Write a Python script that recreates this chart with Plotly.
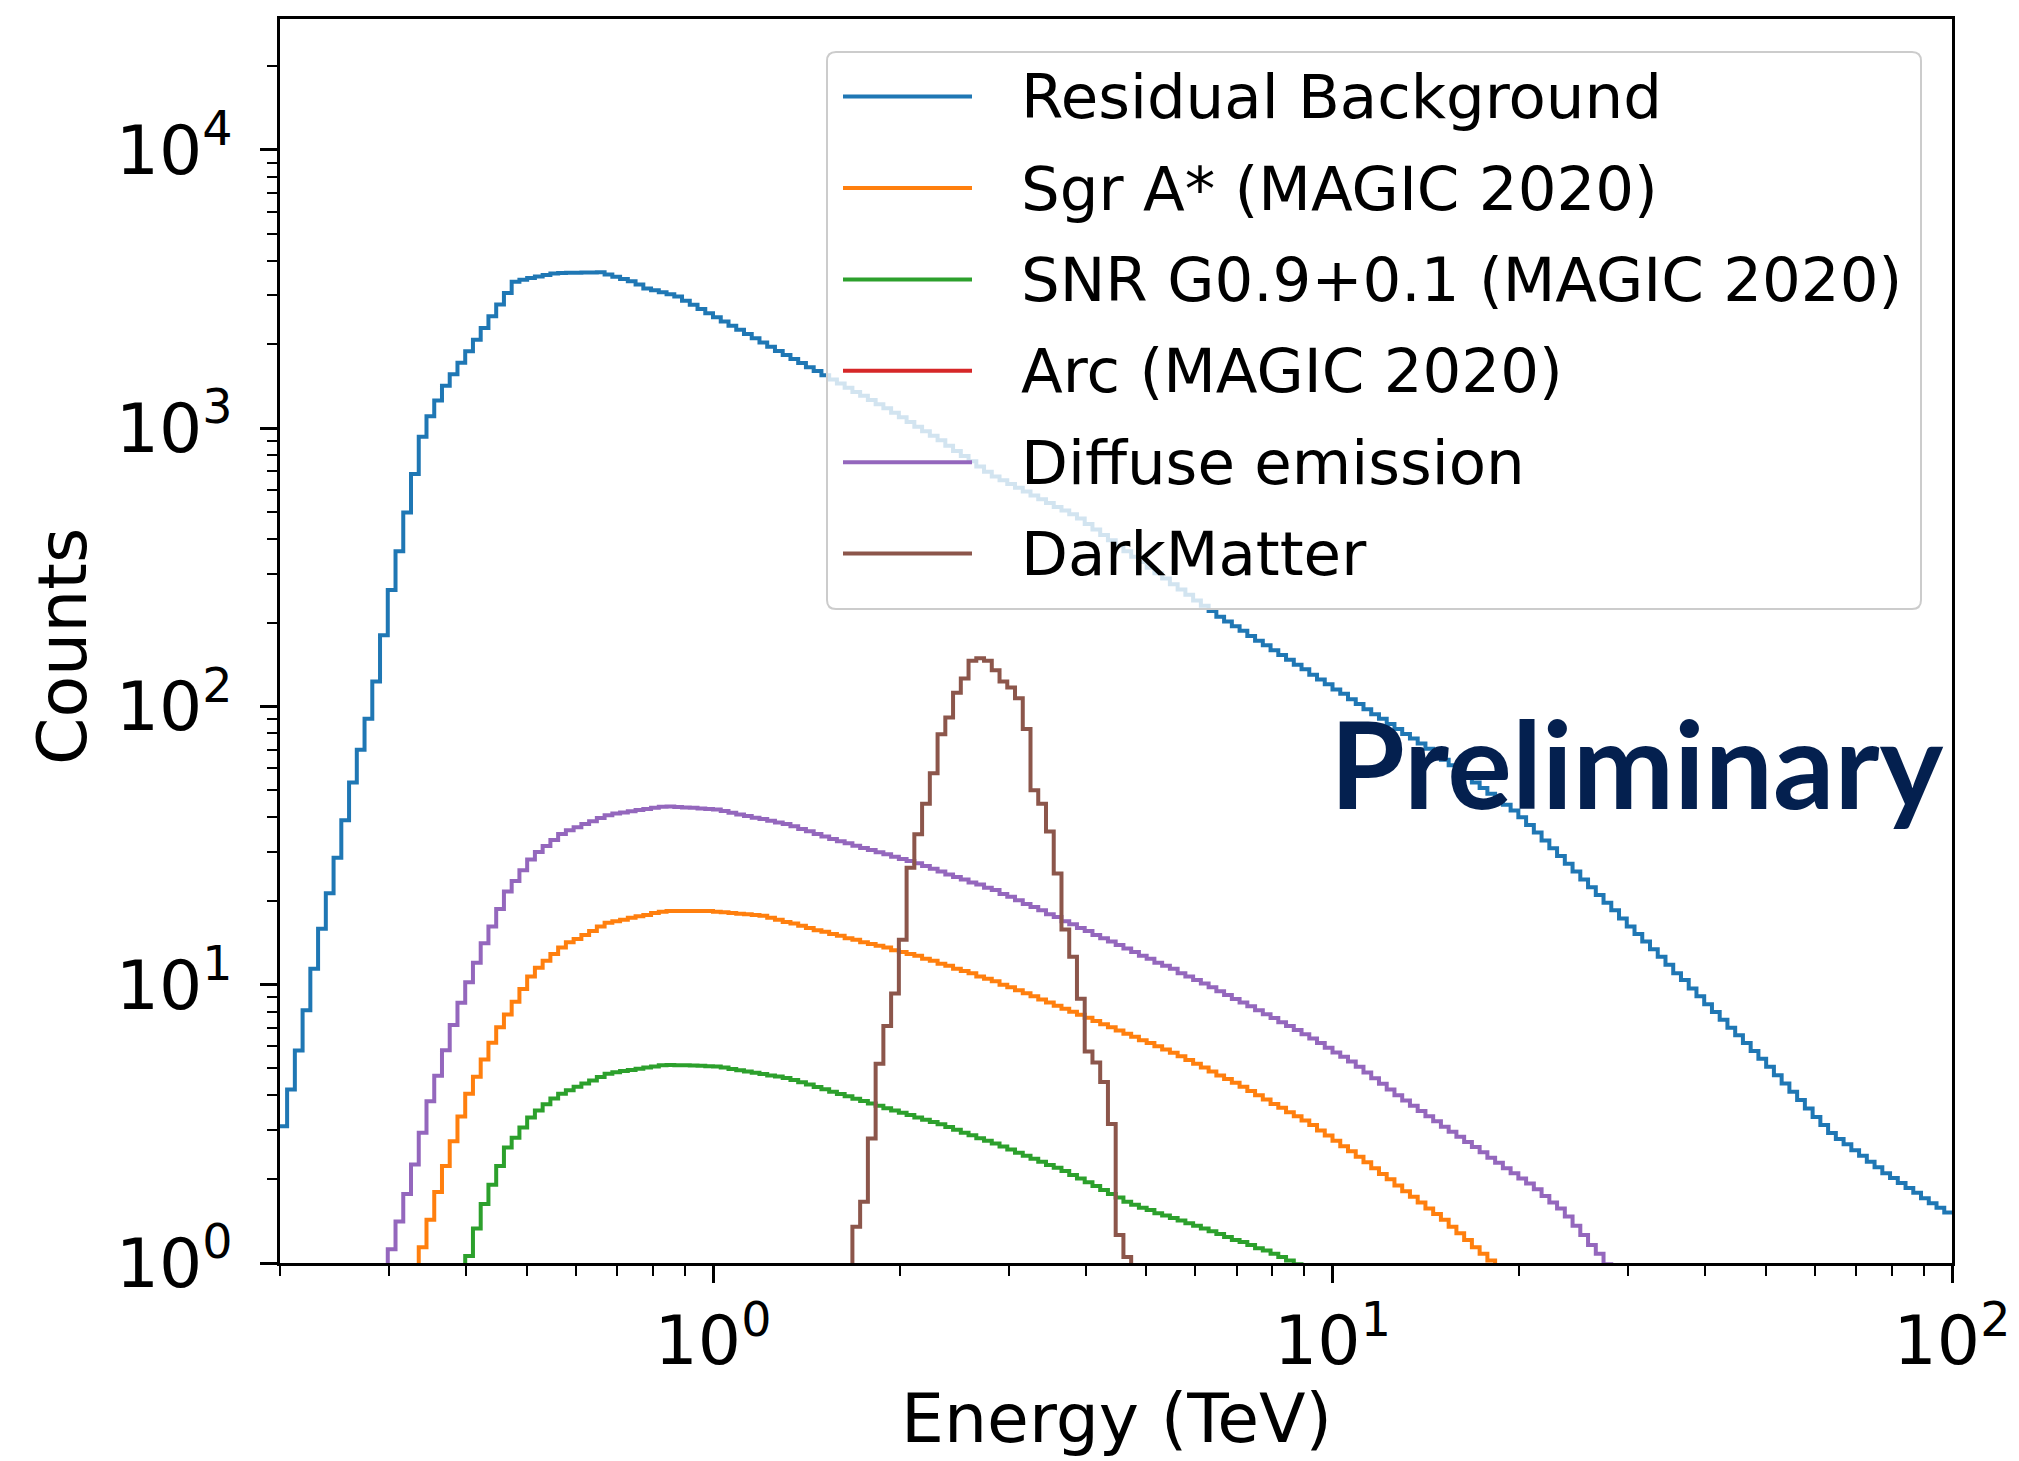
import numpy as np
import plotly.graph_objects as go

# ---------------- data ----------------
# histogram binning: log10(E/TeV) from -0.7 to 2.0, 80 bins per decade
log_e_min = -0.7
log_e_step = 0.0125
n_bins = 216
bin_edges = 10 ** (log_e_min + log_e_step * np.arange(n_bins + 1))

series_names = [
    "Residual Background",
    "Sgr A* (MAGIC 2020)",
    "SNR G0.9+0.1 (MAGIC 2020)",
    "Arc (MAGIC 2020)",
    "Diffuse emission",
    "DarkMatter",
]
series_colors = ["#1f77b4", "#ff7f0e", "#2ca02c", "#d62728", "#9467bd", "#8c564b"]

# first bin index of each series, then counts per bin
bkg_start = 0
bkg_counts = [
    3.1, 4.2, 5.8, 8.1, 11.4, 15.9, 21.3, 28.6, 39, 53.3,
    69.9, 90.3, 123, 180, 262, 361, 497, 684, 931, 1104,
    1256, 1419, 1560, 1718, 1888, 2077, 2291, 2523, 2780, 3060,
    3357, 3415, 3459, 3508, 3548, 3597, 3606, 3614, 3614, 3622,
    3622, 3631, 3565, 3499, 3436, 3373, 3281, 3177, 3126, 3076,
    3027, 2972, 2871, 2773, 2679, 2588, 2500, 2415, 2333, 2254,
    2178, 2104, 2032, 1959, 1892, 1832, 1770, 1714, 1656, 1603,
    1549, 1496, 1445, 1396, 1349, 1306, 1262, 1219, 1178, 1135,
    1094, 1052, 1012, 975, 938, 904, 865, 828, 794, 760,
    728, 697, 670, 649, 630, 610, 592, 573, 555, 538,
    521, 506, 490, 473, 452, 432, 413, 395, 378, 361,
    345, 330, 315, 301, 288, 275, 263, 252, 240, 230,
    220, 210, 202, 194, 187, 179, 172, 166, 159, 153,
    147, 141, 136, 130, 125, 120, 115, 111, 106, 102,
    97.7, 93.8, 90.2, 86.5, 83, 79.6, 76.6, 73.5, 70.5, 67.3,
    64.3, 61.4, 58.5, 55.8, 53.3, 50.9, 48.5, 46.3, 44.3, 42.3,
    40, 37.5, 35.2, 33, 30.9, 29, 27.2, 25.5, 23.9, 22.4,
    21, 19.7, 18.5, 17.3, 16.2, 15.2, 14.3, 13.4, 12.6, 11.8,
    11, 10.4, 9.7, 9.08, 8.51, 7.98, 7.48, 7.01, 6.58, 6.17,
    5.78, 5.42, 5.07, 4.73, 4.42, 4.12, 3.85, 3.59, 3.35, 3.13,
    2.93, 2.79, 2.67, 2.54, 2.43, 2.31, 2.21, 2.1, 2.02, 1.94,
    1.86, 1.79, 1.71, 1.64, 1.58, 1.52,
]

sgr_start = 17
sgr_counts = [
    0.91, 1.14, 1.43,
    1.8, 2.23, 2.74, 3.36, 4.06, 4.67, 5.38, 6.19, 7.03, 7.82,
    8.69, 9.66, 10.7, 11.5, 12.2, 12.9, 13.6, 14.2, 14.6, 15.1,
    15.6, 16.2, 16.7, 16.9, 17.1, 17.4, 17.6, 17.8, 18.1, 18.3,
    18.4, 18.4, 18.4, 18.4, 18.4, 18.4, 18.3, 18.2, 18.1, 18,
    17.9, 17.8, 17.7, 17.4, 17.1, 16.8, 16.6, 16.3, 16, 15.7,
    15.5, 15.2, 15, 14.7, 14.5, 14.2, 14, 13.8, 13.6, 13.3,
    13.1, 12.9, 12.7, 12.4, 12.2, 11.9, 11.7, 11.4, 11.2, 11,
    10.7, 10.5, 10.3, 10, 9.8, 9.55, 9.31, 9.08, 8.85, 8.63,
    8.41, 8.2, 8, 7.8, 7.6, 7.41, 7.21, 7.03, 6.85, 6.67,
    6.5, 6.32, 6.17, 6.01, 5.85, 5.7, 5.53, 5.36, 5.2, 5.04,
    4.88, 4.72, 4.58, 4.44, 4.3, 4.15, 4.01, 3.87, 3.73, 3.61,
    3.48, 3.37, 3.25, 3.13, 2.99, 2.87, 2.75, 2.63, 2.52, 2.41,
    2.3, 2.19, 2.09, 2, 1.9, 1.81, 1.73, 1.65, 1.57, 1.5,
    1.43, 1.35, 1.28, 1.21, 1.14, 1.08, 1.02, 0.96,
]

snr_start = 23
snr_counts = [
    0.9, 1.06, 1.33, 1.63, 1.91, 2.23, 2.6,
    2.82, 3.07, 3.33, 3.53, 3.72, 3.9, 4.06, 4.18, 4.3, 4.42,
    4.53, 4.66, 4.79, 4.85, 4.9, 4.94, 4.99, 5.04, 5.08, 5.13,
    5.15, 5.14, 5.13, 5.12, 5.11, 5.09, 5.08, 5.04, 4.98, 4.93,
    4.88, 4.83, 4.78, 4.72, 4.68, 4.62, 4.55, 4.46, 4.38, 4.29,
    4.21, 4.12, 4.05, 3.97, 3.89, 3.82, 3.74, 3.67, 3.6, 3.53,
    3.47, 3.4, 3.33, 3.27, 3.21, 3.15, 3.08, 3.01, 2.94, 2.88,
    2.81, 2.75, 2.69, 2.62, 2.56, 2.49, 2.43, 2.37, 2.31, 2.25,
    2.2, 2.14, 2.07, 2.01, 1.95, 1.89, 1.83, 1.77, 1.72, 1.66,
    1.62, 1.58, 1.55, 1.51, 1.48, 1.45, 1.42, 1.39, 1.36, 1.33,
    1.3, 1.27, 1.24, 1.21, 1.19, 1.16, 1.13, 1.11, 1.08, 1.05,
    1.02, 0.99, 0.95,
]

arc_start = 28
arc_counts = [
    0.2, 0.25, 0.3, 0.34, 0.38, 0.41, 0.44, 0.46, 0.48, 0.49,
    0.5, 0.51, 0.51, 0.5, 0.5, 0.49, 0.48, 0.47, 0.46, 0.45,
    0.44, 0.43, 0.42, 0.41, 0.4, 0.39, 0.38, 0.37, 0.36, 0.35,
]

diffuse_start = 13
diffuse_counts = [
    0.9, 1.12, 1.41, 1.77, 2.26, 2.94, 3.81,
    4.71, 5.81, 7.16, 8.61, 10.2, 12, 14.1, 16.2, 18.7, 21.6,
    23.6, 25.8, 28.2, 30, 31.5, 33.1, 34.8, 35.9, 36.8, 37.8,
    38.7, 39.7, 40.6, 41.2, 41.6, 42, 42.4, 42.8, 43.2, 43.6,
    43.7, 43.5, 43.3, 43.2, 43, 42.8, 42.6, 42.1, 41.5, 40.9,
    40.4, 39.8, 39.4, 38.8, 38.3, 37.8, 37.1, 36.3, 35.6, 34.8,
    34.1, 33.4, 32.8, 32.2, 31.6, 31, 30.5, 29.9, 29.4, 28.8,
    28.3, 27.8, 27.3, 26.7, 26.1, 25.5, 24.9, 24.4, 23.9, 23.3,
    22.9, 22.3, 21.9, 21.2, 20.7, 20.1, 19.5, 19, 18.5, 17.9,
    17.5, 16.9, 16.5, 16, 15.6, 15.1, 14.7, 14.3, 13.9, 13.5,
    13.1, 12.7, 12.4, 12, 11.7, 11.4, 11, 10.7, 10.4, 10.1,
    9.8, 9.48, 9.18, 8.89, 8.63, 8.36, 8.09, 7.83, 7.59, 7.33,
    7.1, 6.87, 6.64, 6.41, 6.17, 5.94, 5.71, 5.51, 5.3, 5.07,
    4.84, 4.61, 4.41, 4.2, 4.01, 3.84, 3.67, 3.52, 3.37, 3.23,
    3.09, 2.96, 2.84, 2.72, 2.61, 2.5, 2.39, 2.29, 2.19, 2.1,
    2.01, 1.93, 1.84, 1.74, 1.65, 1.57, 1.47, 1.36, 1.26, 1.16,
    1.08, 0.99, 0.93,
]

dm_start = 73
dm_counts = [
    0.5, 1.35, 1.66, 2.8, 5.2, 7.1, 9.3, 14.5, 26.3, 34.7,
    44.7, 57.5, 79.4, 91.2, 112, 126, 146, 149, 146, 135,
    123, 117, 107, 83, 50, 44.7, 35.5, 25.1, 15.8, 12.6,
    8.9, 5.75, 5.25, 4.47, 3.16, 1.26, 1.05, 0.5,
]

series_starts = [bkg_start, sgr_start, snr_start, arc_start, diffuse_start, dm_start]
series_counts = [bkg_counts, sgr_counts, snr_counts, arc_counts, diffuse_counts, dm_counts]

x_title = "Energy (TeV)"
y_title = "Counts"
watermark = "Preliminary"

x_major = [1, 10, 100]
x_major_text = ["10<sup>0</sup>", "10<sup>1</sup>", "10<sup>2</sup>"]
y_major = [1, 10, 100, 1000, 10000]
y_major_text = ["10<sup>0</sup>", "10<sup>1</sup>", "10<sup>2</sup>",
                "10<sup>3</sup>", "10<sup>4</sup>"]
x_minor = [m * d for d in (0.1, 1, 10) for m in range(2, 10)]
y_minor = [m * d for d in (1, 10, 100, 1000, 10000) for m in range(2, 10)]

x_range = [np.log10(0.2), 2.0]
y_range = [0.0, 4.47]

# ---------------- figure ----------------
W, H = 2019, 1461
ML, MR, MT, MB = 280, 67, 19, 198
PW, PH = W - ML - MR, H - MT - MB
LINE_W = 4.0


def px_x(xp):
    return (xp - ML) / PW


def px_y(yp):
    return (H - MB - yp) / PH


fig = go.Figure()
for name, color, start, counts in zip(series_names, series_colors,
                                      series_starts, series_counts):
    x = bin_edges[start:start + len(counts) + 1]
    y = list(counts) + [counts[-1]]
    fig.add_trace(go.Scatter(
        x=x, y=y, mode="lines", name=name, showlegend=False,
        line=dict(color=color, width=LINE_W, shape="hv"),
        hoverinfo="skip",
    ))

font_main = "DejaVu Sans"
axis_common = dict(
    type="log", showgrid=False, zeroline=False,
    showline=True, mirror=True, linecolor="black", linewidth=2.5,
    ticks="outside", ticklen=17, tickwidth=2.5, tickcolor="black",
    tickfont=dict(family=font_main, size=68, color="black"),
    tickmode="array",
    automargin=False,
)

fig.update_layout(
    width=W, height=H,
    margin=dict(l=ML, r=MR, t=MT, b=MB, pad=0),
    paper_bgcolor="white", plot_bgcolor="white",
    showlegend=False,
    xaxis=dict(
        **axis_common, range=x_range, tickvals=x_major, ticktext=x_major_text,
        ticklabelstandoff=0,
        minor=dict(ticks="outside", ticklen=10, tickwidth=2, tickcolor="black",
                   tickmode="array", tickvals=x_minor, showgrid=False),
    ),
    yaxis=dict(
        **axis_common, range=y_range, tickvals=y_major, ticktext=y_major_text,
        ticklabelstandoff=14,
        minor=dict(ticks="outside", ticklen=10, tickwidth=2, tickcolor="black",
                   tickmode="array", tickvals=y_minor, showgrid=False),
    ),
)

# axis titles
fig.add_annotation(x=0.5 * (px_x(280) + px_x(1952)), y=px_y(1418),
                   xref="paper", yref="paper", text=x_title, showarrow=False,
                   xanchor="center", yanchor="middle", borderpad=0,
                   font=dict(family=font_main, size=68, color="black"))
fig.add_annotation(x=px_x(62), y=px_y(647), xref="paper", yref="paper",
                   text=y_title, showarrow=False, textangle=-90,
                   xanchor="center", yanchor="middle",
                   font=dict(family=font_main, size=68, color="black"))

# ---------------- legend (matplotlib-style, long line samples) ----------------
box_l, box_r, box_t, box_b = 827, 1921, 52, 609
r = 9
rx, ry = r / PW, r / PH
L, R, T, B = px_x(box_l), px_x(box_r), px_y(box_t), px_y(box_b)
path = (f"M {L+rx},{B} L {R-rx},{B} Q {R},{B} {R},{B+ry} "
        f"L {R},{T-ry} Q {R},{T} {R-rx},{T} L {L+rx},{T} Q {L},{T} {L},{T-ry} "
        f"L {L},{B+ry} Q {L},{B} {L+rx},{B} Z")
fig.add_shape(type="path", path=path, xref="paper", yref="paper",
              fillcolor="rgba(255,255,255,0.8)",
              line=dict(color="#cccccc", width=2), layer="above")

row0, row_step = 96.6, 91.4
for i, (name, color) in enumerate(zip(series_names, series_colors)):
    yc = px_y(row0 + i * row_step)
    fig.add_shape(type="line", xref="paper", yref="paper",
                  x0=px_x(843), x1=px_x(972), y0=yc, y1=yc,
                  line=dict(color=color, width=LINE_W), layer="above")
    fig.add_annotation(x=px_x(1019), y=yc, xref="paper", yref="paper",
                       text=name, showarrow=False, xanchor="left", yanchor="middle",
                       font=dict(family=font_main, size=61, color="black"))

fig.add_annotation(x=px_x(1328), y=px_y(762), xref="paper", yref="paper",
                   text="<b>" + watermark + "</b>", showarrow=False,
                   xanchor="left", yanchor="middle",
                   font=dict(family="Lato", size=121, color="#04204F"))

fig.write_html("out.html")
